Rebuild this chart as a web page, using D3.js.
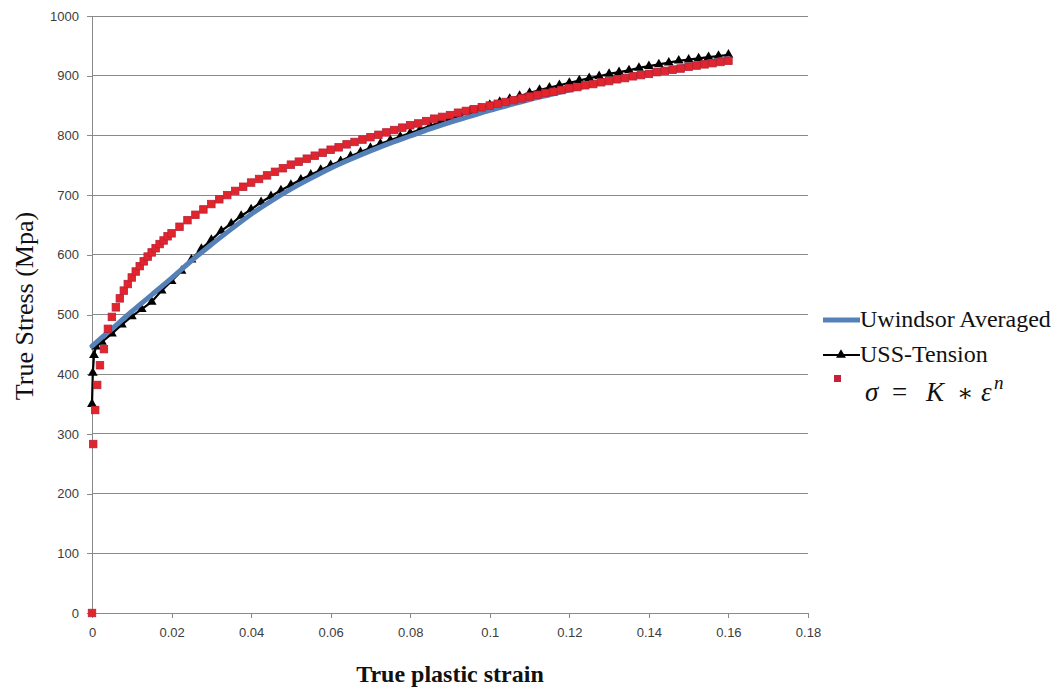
<!DOCTYPE html>
<html>
<head>
<meta charset="utf-8">
<script src="https://cdn.jsdelivr.net/npm/d3@7"></script>
<style>
  html, body { margin: 0; padding: 0; background: #ffffff; }
  svg { display: block; }
</style>
</head>
<body>
<svg id="chart" width="1059" height="690"></svg>
<script>
// Axis ticks
const xTicks = [0, 0.02, 0.04, 0.06, 0.08, 0.1, 0.12, 0.14, 0.16, 0.18];
const xTickLabels = ["0", "0.02", "0.04", "0.06", "0.08", "0.1", "0.12", "0.14", "0.16", "0.18"];
const yTicks = [0, 100, 200, 300, 400, 500, 600, 700, 800, 900, 1000];

// Series names
const seriesNames = ["Uwindsor Averaged", "USS-Tension"];

// Uwindsor averaged curve (strain, MPa)
const blueStrain = [0, 0.005, 0.01, 0.015, 0.02, 0.025, 0.03, 0.035, 0.04, 0.045, 0.05, 0.055, 0.06, 0.065,
  0.07, 0.075, 0.08, 0.085, 0.09, 0.095, 0.1, 0.105, 0.11, 0.115, 0.12, 0.125, 0.13, 0.135, 0.14, 0.145,
  0.15, 0.155, 0.16];
const blueStress = [447, 476, 505, 533, 561, 590, 617, 643, 668, 690, 710, 728, 745, 760,
  774, 787, 799, 811, 822, 832, 842, 851, 860, 868, 876, 884, 891, 898, 905, 911,
  917, 923, 929];

// USS tension test (strain, MPa)
const blackStrain = [0, 0.0002, 0.0005, 0.001, 0.0025, 0.005, 0.0075, 0.01, 0.0125, 0.015, 0.0175, 0.02,
  0.0225, 0.025, 0.0275, 0.03, 0.0325, 0.035, 0.0375, 0.04, 0.0425, 0.045, 0.0475, 0.05, 0.0525, 0.055,
  0.0575, 0.06, 0.0625, 0.065, 0.0675, 0.07, 0.0725, 0.075, 0.0775, 0.08, 0.0825, 0.085, 0.0875, 0.09,
  0.0925, 0.095, 0.0975, 0.1, 0.1025, 0.105, 0.1075, 0.11, 0.1125, 0.115, 0.1175, 0.12, 0.1225, 0.125,
  0.1275, 0.13, 0.1325, 0.135, 0.1375, 0.14, 0.1425, 0.145, 0.1475, 0.15, 0.1525, 0.155, 0.1575, 0.16];
const blackStress = [350, 402, 432, 446, 454, 468, 483, 497, 509, 521, 540, 556,
  573, 592, 610, 625, 640, 652, 665, 676, 688, 698, 708, 717, 726, 734,
  742, 750, 757, 765, 772, 779, 786, 792, 798, 804, 810, 816, 822, 828,
  834, 840, 845, 851, 856, 861, 866, 871, 876, 880, 884, 888, 892, 896,
  899, 903, 906, 909, 913, 916, 919, 922, 925, 927, 929, 931, 933, 935];

// Power-law fit sigma = K * eps^n (strain, MPa)
const redStrain = [0, 0.0003, 0.0008, 0.0013, 0.002, 0.003, 0.004, 0.005, 0.006, 0.007, 0.008, 0.009,
  0.01, 0.011, 0.012, 0.013, 0.014, 0.015, 0.016, 0.017, 0.018, 0.019, 0.02, 0.022, 0.024, 0.026,
  0.028, 0.03, 0.032, 0.034, 0.036, 0.038, 0.04, 0.042, 0.044, 0.046, 0.048, 0.05, 0.052, 0.054,
  0.056, 0.058, 0.06, 0.062, 0.064, 0.066, 0.068, 0.07, 0.072, 0.074, 0.076, 0.078, 0.08, 0.082,
  0.084, 0.086, 0.088, 0.09, 0.092, 0.094, 0.096, 0.098, 0.1, 0.102, 0.104, 0.106, 0.108, 0.11,
  0.112, 0.114, 0.116, 0.118, 0.12, 0.122, 0.124, 0.126, 0.128, 0.13, 0.132, 0.134, 0.136, 0.138,
  0.14, 0.142, 0.144, 0.146, 0.148, 0.15, 0.152, 0.154, 0.156, 0.158, 0.16];
const redStress = [0, 283, 340, 382, 415, 442, 476, 496, 512, 527, 540, 551,
  562, 572, 581, 589, 597, 604, 611, 618, 624, 631, 636, 647, 658, 667,
  676, 685, 693, 700, 707, 714, 721, 727, 733, 739, 745, 751, 756, 761,
  766, 771, 776, 780, 785, 789, 793, 797, 801, 805, 809, 813, 817, 820,
  824, 828, 831, 834, 838, 841, 844, 847, 850, 853, 856, 859, 862, 865,
  868, 871, 873, 876, 879, 881, 884, 886, 889, 891, 894, 896, 899, 901,
  903, 906, 908, 910, 912, 915, 917, 919, 921, 923, 925];

const svg = d3.select("#chart");

const x = d3.scaleLinear().domain([0, 0.18]).range([92, 808]);
const y = d3.scaleLinear().domain([0, 1000]).range([613, 16]);

const gridColor = "#8a8a8a";
const labelColor = "#3c3c3c";
const tickFont = "'Liberation Sans', Arial, sans-serif";
const serif = "'Liberation Serif', 'Times New Roman', serif";

// Horizontal gridlines
svg.append("g")
  .selectAll("line")
  .data(yTicks.filter(d => d > 0))
  .join("line")
  .attr("x1", x(0)).attr("x2", x(0.18))
  .attr("y1", d => y(d)).attr("y2", d => y(d))
  .attr("stroke", gridColor)
  .attr("stroke-width", 1)
  .attr("shape-rendering", "crispEdges");

// Y axis
const yAxis = svg.append("g")
  .attr("transform", `translate(${x(0)},0)`)
  .call(d3.axisLeft(y).tickValues(yTicks).tickSize(5).tickPadding(8).tickFormat(d3.format("d")));

// X axis
const xAxis = svg.append("g")
  .attr("transform", `translate(0,${y(0)})`)
  .call(d3.axisBottom(x).tickValues(xTicks).tickSize(5).tickPadding(10)
    .tickFormat((d, i) => xTickLabels[i]));

[yAxis, xAxis].forEach(g => {
  g.select(".domain").attr("stroke", gridColor).attr("shape-rendering", "crispEdges");
  g.selectAll(".tick line").attr("stroke", gridColor).attr("shape-rendering", "crispEdges");
  g.selectAll(".tick text")
    .attr("fill", labelColor)
    .style("font-family", tickFont)
    .style("font-size", "13px");
});

// Axis titles
svg.append("text")
  .attr("x", 450).attr("y", 682)
  .attr("text-anchor", "middle")
  .style("font-family", serif)
  .style("font-weight", "bold")
  .style("font-size", "24px")
  .attr("fill", "#111")
  .text("True plastic strain");

svg.append("text")
  .attr("transform", "translate(33,306) rotate(-90)")
  .attr("text-anchor", "middle")
  .style("font-family", serif)
  .style("font-size", "26px")
  .attr("fill", "#111")
  .text("True Stress (Mpa)");

const plot = svg.append("g");

// USS-Tension line
const blackPts = blackStrain.map((s, i) => [s, blackStress[i]]);
plot.append("path")
  .datum(blackPts)
  .attr("fill", "none")
  .attr("stroke", "#000")
  .attr("stroke-width", 2.2)
  .attr("d", d3.line().x(d => x(d[0])).y(d => y(d[1])));

const tri = d3.symbol().type(d3.symbolTriangle).size(42);
plot.append("g")
  .selectAll("path")
  .data(blackPts)
  .join("path")
  .attr("transform", d => `translate(${x(d[0])},${y(d[1])})`)
  .attr("d", tri)
  .attr("fill", "#000");

// Uwindsor averaged curve
const bluePts = blueStrain.map((s, i) => [s, blueStress[i]]);
plot.append("path")
  .datum(bluePts)
  .attr("fill", "none")
  .attr("stroke", "#5580b8")
  .attr("stroke-width", 5)
  .attr("stroke-linecap", "round")
  .attr("d", d3.line().curve(d3.curveMonotoneX).x(d => x(d[0])).y(d => y(d[1])));

// Power-law points
const redPts = redStrain.map((s, i) => [s, redStress[i]]);
const sq = 7.5;
plot.append("g")
  .selectAll("rect")
  .data(redPts)
  .join("rect")
  .attr("x", d => x(d[0]) - sq / 2)
  .attr("y", d => y(d[1]) - sq / 2)
  .attr("width", sq).attr("height", sq)
  .attr("fill", "#e3242b")
  .attr("stroke", "#b8223c")
  .attr("stroke-width", 0.8);

// Legend
const legend = svg.append("g");
legend.append("line")
  .attr("x1", 823).attr("x2", 860).attr("y1", 320).attr("y2", 320)
  .attr("stroke", "#5580b8").attr("stroke-width", 5);
legend.append("text")
  .attr("x", 860).attr("y", 327)
  .style("font-family", serif).style("font-size", "24px").attr("fill", "#111")
  .text(seriesNames[0]);

legend.append("line")
  .attr("x1", 823).attr("x2", 860).attr("y1", 355).attr("y2", 355)
  .attr("stroke", "#000").attr("stroke-width", 2.2);
legend.append("path")
  .attr("transform", "translate(841,355)")
  .attr("d", tri).attr("fill", "#000");
legend.append("text")
  .attr("x", 860).attr("y", 362)
  .style("font-family", serif).style("font-size", "24px").attr("fill", "#111")
  .text(seriesNames[1]);

legend.append("rect")
  .attr("x", 834).attr("y", 375).attr("width", 7).attr("height", 7)
  .attr("fill", "#c8203c");

const math = legend.append("text")
  .attr("y", 401)
  .style("font-family", serif).style("font-size", "27px").attr("fill", "#111");
math.append("tspan").attr("x", 865).style("font-style", "italic").text("σ");
math.append("tspan").attr("x", 892).text("=");
math.append("tspan").attr("x", 926).style("font-style", "italic").text("K");
math.append("tspan").attr("x", 957)
  .style("font-family", "'DejaVu Serif', serif").style("font-size", "24px").text("∗");
math.append("tspan").attr("x", 981).style("font-style", "italic").text("ε");
math.append("tspan").attr("x", 994).attr("dy", -12).style("font-style", "italic")
  .style("font-size", "19px").text("n");
</script>
</body>
</html>
